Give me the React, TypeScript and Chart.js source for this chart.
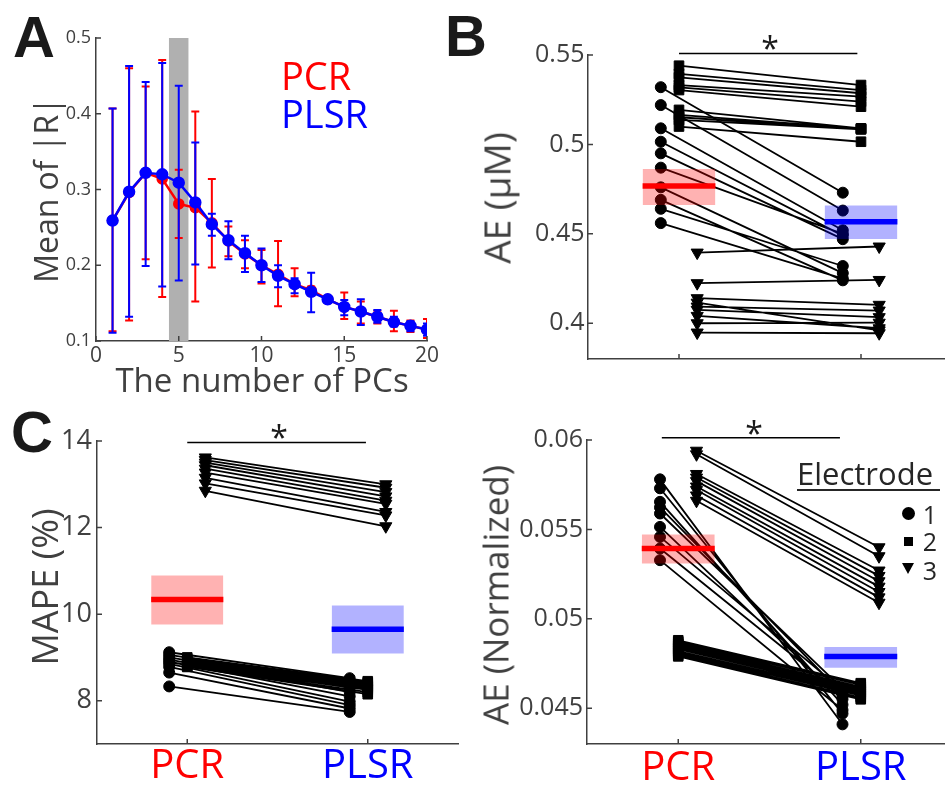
import React, { useEffect, useRef } from 'react';
import { Chart, registerables } from 'chart.js';

Chart.register(...registerables);

// ---------------- Panel A data ----------------
const PCS = [1, 2, 3, 4, 5, 6, 7, 8, 9, 10, 11, 12, 13, 14, 15, 16, 17, 18, 19, 20];
const PCR_MEAN = [0.259, 0.296, 0.322, 0.314, 0.281, 0.276, 0.256, 0.232, 0.215, 0.2, 0.188, 0.175, 0.167, 0.155, 0.145, 0.139, 0.132, 0.125, 0.12, 0.115];
const PCR_LO = [0.113, 0.127, 0.208, 0.158, 0.236, 0.152, 0.197, 0.212, 0.196, 0.176, 0.146, 0.159, 0.16, 0.151, 0.129, 0.123, 0.123, 0.113, 0.112, 0.104];
const PCR_HI = [0.407, 0.46, 0.436, 0.471, 0.326, 0.403, 0.314, 0.251, 0.233, 0.22, 0.232, 0.196, 0.172, 0.159, 0.164, 0.152, 0.14, 0.14, 0.127, 0.129];
const PLSR_MEAN = [0.259, 0.297, 0.322, 0.32, 0.309, 0.283, 0.254, 0.233, 0.216, 0.2, 0.186, 0.175, 0.165, 0.155, 0.145, 0.139, 0.132, 0.125, 0.12, 0.115];
const PLSR_LO = [0.111, 0.132, 0.199, 0.172, 0.18, 0.201, 0.239, 0.208, 0.191, 0.178, 0.171, 0.163, 0.138, 0.152, 0.134, 0.121, 0.124, 0.119, 0.113, 0.107];
const PLSR_HI = [0.407, 0.463, 0.442, 0.467, 0.437, 0.362, 0.268, 0.258, 0.239, 0.222, 0.2, 0.183, 0.19, 0.158, 0.154, 0.155, 0.141, 0.132, 0.126, 0.123];
const A_SELECTED = [4.4, 5.6];
const A_X_TICKS = [0, 5, 10, 15, 20];
const A_Y_TICKS = [0.1, 0.2, 0.3, 0.4, 0.5];

// ---------------- Panel B data (AE, uM) ----------------
const B_PCR_E1 = [0.532, 0.522, 0.509, 0.5015, 0.495, 0.487, 0.476, 0.469, 0.464, 0.456];
const B_PLSR_E1 = [0.473, 0.463, 0.452, 0.449, 0.447, 0.45, 0.428, 0.424, 0.432, 0.425];
const B_PCR_E2 = [0.544, 0.5394, 0.5375, 0.5332, 0.5319, 0.5304, 0.5193, 0.5165, 0.5152, 0.5137, 0.51];
const B_PLSR_E2 = [0.5332, 0.5304, 0.5286, 0.5267, 0.5239, 0.5211, 0.509, 0.5088, 0.5086, 0.5084, 0.5015];
const B_PCR_E3 = [0.4395, 0.4224, 0.414, 0.4115, 0.4093, 0.4075, 0.4041, 0.4, 0.3948];
const B_PLSR_E3 = [0.4429, 0.4242, 0.4103, 0.396, 0.4071, 0.4034, 0.3972, 0.4003, 0.3944];
const B_MEAN = [0.4768, 0.4568];
const B_BAND_LO = [0.4661, 0.4471];
const B_BAND_HI = [0.4863, 0.4658];
const B_Y_TICKS = [0.4, 0.45, 0.5, 0.55];

// ---------------- Panel C data (MAPE %) ----------------
const C_PCR_E1 = [9.12, 9.06, 9.0, 8.95, 8.9, 8.85, 8.78, 8.65, 8.33];
const C_PLSR_E1 = [8.52, 8.42, 8.3, 8.2, 8.1, 7.98, 7.9, 7.82, 7.74];
const C_PCR_E2 = [9.0, 8.96, 8.93, 8.9, 8.88, 8.85, 8.82, 8.8, 8.78];
const C_PLSR_E2 = [8.45, 8.42, 8.38, 8.35, 8.32, 8.28, 8.25, 8.2, 8.15];
const C_PCR_E3 = [13.62, 13.56, 13.5, 13.44, 13.36, 13.27, 13.15, 13.02, 12.85];
const C_PLSR_E3 = [13.0, 12.92, 12.82, 12.72, 12.62, 12.55, 12.36, 12.28, 12.03];
const C_MEAN = [10.34, 9.65];
const C_BAND_LO = [9.76, 9.09];
const C_BAND_HI = [10.89, 10.2];
const C_Y_TICKS = [8, 10, 12, 14];

// ---------------- Panel D data (AE normalized) ----------------
const D_PCR_E1 = [0.0578, 0.0573, 0.05654, 0.05623, 0.05589, 0.05514, 0.05458, 0.05393, 0.05328];
const D_PLSR_E1 = [0.0441, 0.0447, 0.0452, 0.0458, 0.0461, 0.0455, 0.046, 0.0457, 0.0449];
const D_PCR_E2 = [0.0488, 0.0487, 0.0486, 0.0485, 0.0484, 0.0483, 0.0482, 0.0481, 0.048, 0.0479];
const D_PLSR_E2 = [0.0464, 0.0463, 0.0462, 0.0461, 0.046, 0.0459, 0.0458, 0.0457, 0.0456, 0.0455];
const D_PCR_E3 = [0.0594, 0.0592, 0.0581, 0.0579, 0.0577, 0.0574, 0.0572, 0.0569, 0.0566];
const D_PLSR_E3 = [0.054, 0.0535, 0.0527, 0.0524, 0.0521, 0.0518, 0.0515, 0.0512, 0.0509];
const D_MEAN = [0.05393, 0.0479];
const D_BAND_LO = [0.05309, 0.04726];
const D_BAND_HI = [0.05471, 0.04842];
const D_Y_TICKS = [0.045, 0.05, 0.055, 0.06];

const METHODS = ['PCR', 'PLSR'];
const METHOD_TICKS = [1, 2];
const ELECTRODES = ['1', '2', '3'];

// ---------------- styling ----------------
const FONT = "'Open Sans', sans-serif";
const GRAY = '#404040';
const RED = '#ff0000';
const BLUE = '#0000ff';
const RED_BAND = 'rgba(255,0,0,0.3)';
const BLUE_BAND = 'rgba(0,0,255,0.3)';
const NONE = 'rgba(0,0,0,0)';

type Box = { left: number; top: number; width: number; height: number };
type Area = { l: number; t: number; r: number; b: number };

const inwardTicks = {
  id: 'inwardTicks',
  afterDatasetsDraw(chart: any, _args: any, opts: any) {
    const { ctx, chartArea } = chart;
    const xs = chart.scales.x;
    const ys = chart.scales.y;
    ctx.save();
    ctx.strokeStyle = opts.color;
    ctx.lineWidth = opts.width;
    ctx.beginPath();
    xs.ticks.forEach((t: any) => {
      const px = xs.getPixelForValue(t.value);
      ctx.moveTo(px, chartArea.bottom);
      ctx.lineTo(px, chartArea.bottom - opts.len);
    });
    ys.ticks.forEach((t: any) => {
      const py = ys.getPixelForValue(t.value);
      ctx.moveTo(chartArea.left, py);
      ctx.lineTo(chartArea.left + opts.len, py);
    });
    ctx.stroke();
    ctx.restore();
  },
};

const fmt = (v: number) => String(Number(v.toFixed(4)));

function makeOptions(box: Box, area: Area, xc: any, yc: any) {
  return {
    responsive: false,
    animation: false,
    devicePixelRatio: 1,
    events: [],
    layout: { padding: { left: 0, bottom: 0, top: area.t - box.top, right: box.left + box.width - area.r } },
    plugins: {
      legend: { display: false },
      tooltip: { enabled: false },
      inwardTicks: { len: 5, color: GRAY, width: 1.5 },
    },
    scales: {
      x: {
        type: 'linear',
        min: xc.min,
        max: xc.max,
        grid: { display: false, drawTicks: false },
        border: { display: true, color: GRAY, width: 1.5 },
        afterBuildTicks: (s: any) => { s.ticks = xc.ticks.map((v: number) => ({ value: v })); },
        afterFit: (s: any) => { s.height = box.top + box.height - area.b; },
        ticks: {
          autoSkip: false,
          maxRotation: 0,
          minRotation: 0,
          padding: xc.pad,
          font: { family: FONT, size: xc.size, lineHeight: 1 },
          color: xc.color,
          callback: xc.label,
        },
      },
      y: {
        type: 'linear',
        min: yc.min,
        max: yc.max,
        grid: { display: false, drawTicks: false },
        border: { display: true, color: GRAY, width: 1.5 },
        afterBuildTicks: (s: any) => { s.ticks = yc.ticks.map((v: number) => ({ value: v })); },
        afterFit: (s: any) => { s.width = area.l - box.left; },
        ticks: {
          autoSkip: false,
          padding: yc.pad,
          font: { family: FONT, size: yc.size, lineHeight: 1 },
          color: GRAY,
          callback: (v: number) => fmt(v),
        },
      },
    },
  };
}

function errorSegments(xs: number[], lo: number[], hi: number[], cap: number) {
  const pts: any[] = [];
  xs.forEach((x, i) => {
    pts.push({ x, y: lo[i] }, { x, y: hi[i] }, { x, y: null });
    pts.push({ x: x - cap, y: hi[i] }, { x: x + cap, y: hi[i] }, { x, y: null });
    pts.push({ x: x - cap, y: lo[i] }, { x: x + cap, y: lo[i] }, { x, y: null });
  });
  return pts;
}

function pairPoints(x1: number, x2: number, a: number[], b: number[]) {
  const pts: any[] = [];
  a.forEach((v, i) => {
    pts.push({ x: x1, y: v }, { x: x2, y: b[i] }, { x: x2, y: null });
  });
  return pts;
}

const MARKERS = [
  { pointStyle: 'circle', pointRadius: 5.5, pointRotation: 0, dx: -0.1 },
  { pointStyle: 'rect', pointRadius: 6.8, pointRotation: 0, dx: 0 },
  { pointStyle: 'triangle', pointRadius: 7, pointRotation: 180, dx: 0.1 },
];

function pairedDatasets(
  groups: [number[], number[]][],
  mean: number[],
  lo: number[],
  hi: number[],
  sig: { x1: number; x2: number; y: number }
) {
  const ds: any[] = [];
  ds.push({
    data: [{ x: sig.x1, y: sig.y }, { x: sig.x2, y: sig.y }],
    borderColor: '#000', borderWidth: 1.5, pointRadius: 0, clip: false, order: 0,
  });
  const colors = [RED, BLUE];
  const bands = [RED_BAND, BLUE_BAND];
  [1, 2].forEach((c, k) => {
    ds.push({
      data: [{ x: c - 0.2, y: mean[k] }, { x: c + 0.2, y: mean[k] }],
      borderColor: colors[k], borderWidth: 5.5, borderCapStyle: 'butt', pointRadius: 0, order: 1,
    });
    ds.push({
      data: [{ x: c - 0.2, y: hi[k] }, { x: c + 0.2, y: hi[k] }],
      fill: { value: lo[k] }, backgroundColor: bands[k], borderColor: NONE, borderWidth: 0,
      pointRadius: 0, order: 2,
    });
  });
  groups.forEach((g, e) => {
    const m = MARKERS[e];
    ds.push({
      data: pairPoints(1 + m.dx, 2 + m.dx, g[0], g[1]),
      borderColor: '#000', borderWidth: 1.8,
      pointStyle: m.pointStyle, pointRadius: m.pointRadius, pointRotation: m.pointRotation,
      pointBackgroundColor: '#000', pointBorderColor: '#000', pointBorderWidth: 1,
      order: 3 + e,
    });
  });
  return ds;
}

const methodLabel = (v: number) => METHODS[METHOD_TICKS.indexOf(v)] ?? '';
const methodColor = (ctx: any) => (ctx.tick && ctx.tick.value === 1 ? RED : BLUE);

// ---------------- panel layouts ----------------
const BOX_A: Box = { left: 0, top: 0, width: 450, height: 400 };
const AREA_A: Area = { l: 96, t: 38, r: 427, b: 341 };
const BOX_B: Box = { left: 450, top: 0, width: 510, height: 400 };
const AREA_B: Area = { l: 588, t: 55, r: 953, b: 359 };
const BOX_C: Box = { left: 0, top: 400, width: 480, height: 386 };
const AREA_C: Area = { l: 97, t: 441, r: 458, b: 744 };
const BOX_D: Box = { left: 450, top: 400, width: 510, height: 386 };
const AREA_D: Area = { l: 587, t: 440, r: 954, b: 744 };

function configA() {
  const cap = 0.24;
  return {
    type: 'line',
    data: {
      datasets: [
        {
          data: [{ x: A_SELECTED[0], y: 0.5 }, { x: A_SELECTED[1], y: 0.5 }],
          fill: { value: 0.1 }, backgroundColor: '#b0b0b0', borderColor: NONE, borderWidth: 0,
          pointRadius: 0, order: 10,
        },
        {
          data: errorSegments(PCS, PCR_LO, PCR_HI, cap),
          borderColor: RED, borderWidth: 2, pointRadius: 0, order: 6,
        },
        {
          data: PCS.map((x, i) => ({ x, y: PCR_MEAN[i] })),
          borderColor: RED, borderWidth: 2.5, pointRadius: 4.5,
          pointBackgroundColor: RED, pointBorderColor: RED, order: 5,
        },
        {
          data: errorSegments(PCS, PLSR_LO, PLSR_HI, cap),
          borderColor: BLUE, borderWidth: 2, pointRadius: 0, order: 4,
        },
        {
          data: PCS.map((x, i) => ({ x, y: PLSR_MEAN[i] })),
          borderColor: BLUE, borderWidth: 2.5, pointRadius: 5,
          pointBackgroundColor: BLUE, pointBorderColor: BLUE, order: 3,
        },
      ],
    },
    options: makeOptions(
      BOX_A, AREA_A,
      { min: 0, max: 20, ticks: A_X_TICKS, pad: 5, size: 21, color: GRAY, label: (v: number) => fmt(v) },
      { min: 0.1, max: 0.5, ticks: A_Y_TICKS, pad: 5, size: 18 }
    ),
    plugins: [inwardTicks],
  };
}

function configB() {
  return {
    type: 'line',
    data: {
      datasets: pairedDatasets(
        [[B_PCR_E1, B_PLSR_E1], [B_PCR_E2, B_PLSR_E2], [B_PCR_E3, B_PLSR_E3]],
        B_MEAN, B_BAND_LO, B_BAND_HI, { x1: 1, x2: 1.98, y: 0.5509 }
      ),
    },
    options: makeOptions(
      BOX_B, AREA_B,
      { min: 0.5, max: 2.5, ticks: METHOD_TICKS, pad: 4, size: 20, color: GRAY, label: () => '' },
      { min: 0.38, max: 0.55, ticks: B_Y_TICKS, pad: 3.5, size: 25 }
    ),
    plugins: [inwardTicks],
  };
}

function configC() {
  return {
    type: 'line',
    data: {
      datasets: pairedDatasets(
        [[C_PCR_E1, C_PLSR_E1], [C_PCR_E2, C_PLSR_E2], [C_PCR_E3, C_PLSR_E3]],
        C_MEAN, C_BAND_LO, C_BAND_HI, { x1: 1, x2: 1.99, y: 13.963 }
      ),
    },
    options: makeOptions(
      BOX_C, AREA_C,
      { min: 0.5, max: 2.5, ticks: METHOD_TICKS, pad: 3, size: 40, color: methodColor, label: methodLabel },
      { min: 7, max: 14, ticks: C_Y_TICKS, pad: 5, size: 27 }
    ),
    plugins: [inwardTicks],
  };
}

function configD() {
  return {
    type: 'line',
    data: {
      datasets: pairedDatasets(
        [[D_PCR_E1, D_PLSR_E1], [D_PCR_E2, D_PLSR_E2], [D_PCR_E3, D_PLSR_E3]],
        D_MEAN, D_BAND_LO, D_BAND_HI, { x1: 0.91, x2: 1.886, y: 0.06013 }
      ),
    },
    options: makeOptions(
      BOX_D, AREA_D,
      { min: 0.5, max: 2.5, ticks: METHOD_TICKS, pad: 5, size: 40, color: methodColor, label: methodLabel },
      { min: 0.043, max: 0.06, ticks: D_Y_TICKS, pad: 4, size: 25 }
    ),
    plugins: [inwardTicks],
  };
}

function Panel({ box, make }: { box: Box; make: () => any }) {
  const ref = useRef<HTMLCanvasElement>(null);
  useEffect(() => {
    const chart = new Chart(ref.current as HTMLCanvasElement, make());
    return () => chart.destroy();
  }, []);
  return (
    <canvas
      ref={ref}
      width={box.width}
      height={box.height}
      style={{ position: 'absolute', left: box.left, top: box.top, width: box.width, height: box.height }}
    />
  );
}

function Txt(props: {
  x: number; y: number; size: number; color?: string; weight?: number | string;
  family?: string; rotate?: boolean; anchor?: 'center' | 'left'; children: React.ReactNode;
}) {
  const { x, y, size, color = GRAY, weight = 400, family = FONT, rotate = false, anchor = 'center' } = props;
  const tx = anchor === 'left' ? '0' : '-50%';
  return (
    <div
      style={{
        position: 'absolute', left: x, top: y, fontSize: size, lineHeight: 1, color,
        fontWeight: weight as any, fontFamily: family, whiteSpace: 'nowrap',
        transform: `translate(${tx}, -50%)${rotate ? ' rotate(-90deg)' : ''}`,
      }}
    >
      {props.children}
    </div>
  );
}

export default function App() {
  const letter = "'Liberation Sans', Arial, sans-serif";
  return (
    <div
      style={{
        position: 'absolute', left: 0, top: 0, width: 945, height: 786, overflow: 'hidden',
        background: '#ffffff', fontFamily: FONT,
      }}
    >
      <Panel box={BOX_A} make={configA} />
      <Panel box={BOX_B} make={configB} />
      <Panel box={BOX_C} make={configC} />
      <Panel box={BOX_D} make={configD} />

      {/* panel letters */}
      <Txt x={34} y={37} size={58} weight={700} color="#1a1a1a" family={letter}>A</Txt>
      <Txt x={466} y={36} size={58} weight={700} color="#1a1a1a" family={letter}>B</Txt>
      <Txt x={32} y={432} size={58} weight={700} color="#1a1a1a" family={letter}>C</Txt>

      {/* panel A texts */}
      <Txt x={46} y={190} size={32} rotate>Mean of |R|</Txt>
      <Txt x={262} y={379} size={33}>The number of PCs</Txt>
      <Txt x={281} y={75} size={38} color={RED} anchor="left">{METHODS[0]}</Txt>
      <Txt x={281} y={113} size={38} color={BLUE} anchor="left">{METHODS[1]}</Txt>

      {/* y titles */}
      <Txt x={496} y={198} size={37} rotate>AE (μM)</Txt>
      <Txt x={45} y={587} size={36} rotate>MAPE (%)</Txt>
      <Txt x={495} y={595} size={35} rotate>AE (Normalized)</Txt>

      {/* significance asterisks */}
      <Txt x={770} y={48} size={32} color="#1a1a1a">*</Txt>
      <Txt x={279} y={437} size={32} color="#1a1a1a">*</Txt>
      <Txt x={754} y={433} size={32} color="#1a1a1a">*</Txt>

      {/* electrode legend */}
      <Txt x={797} y={473} size={31} color="#262626" anchor="left">Electrode</Txt>
      <div style={{ position: 'absolute', left: 797, top: 489, width: 143, height: 1.5, background: '#262626' }} />
      <div style={{ position: 'absolute', left: 901.5, top: 507, width: 13, height: 13, borderRadius: '50%', background: '#000' }} />
      <div style={{ position: 'absolute', left: 903.5, top: 537, width: 9, height: 9, background: '#000' }} />
      <div
        style={{
          position: 'absolute', left: 901.5, top: 563, width: 0, height: 0,
          borderLeft: '6.5px solid transparent', borderRight: '6.5px solid transparent', borderTop: '11px solid #000',
        }}
      />
      <Txt x={930} y={514} size={25} color="#262626">{ELECTRODES[0]}</Txt>
      <Txt x={930} y={541} size={25} color="#262626">{ELECTRODES[1]}</Txt>
      <Txt x={930} y={570} size={25} color="#262626">{ELECTRODES[2]}</Txt>
    </div>
  );
}
